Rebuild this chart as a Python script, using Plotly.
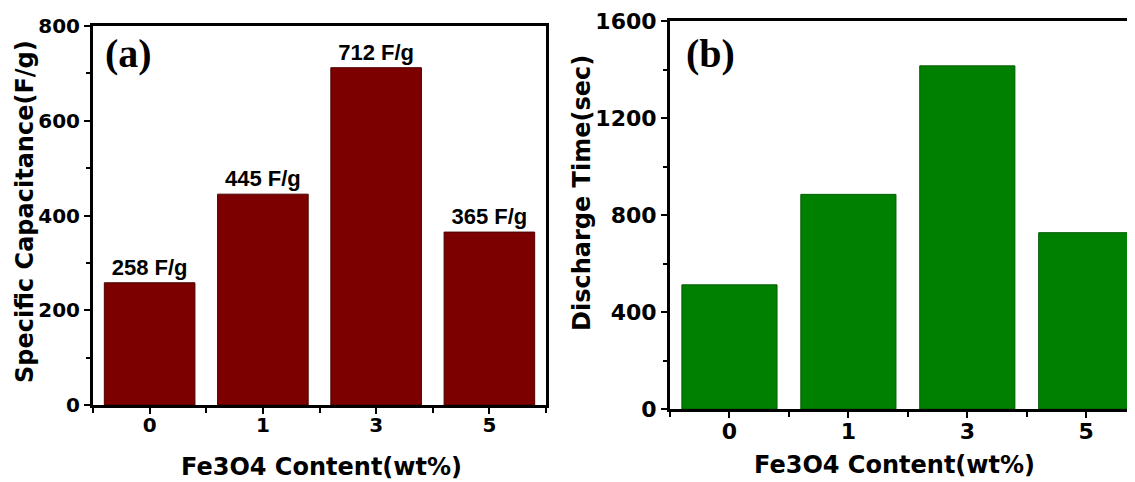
import plotly.graph_objects as go

# ---- data ----
fe3o4_content = ["0", "1", "3", "5"]
specific_capacitance = [258, 445, 712, 365]
capacitance_labels = ["258 F/g", "445 F/g", "712 F/g", "365 F/g"]
discharge_time = [512, 885, 1415, 727]

PAGE_W, PAGE_H = 1135, 482
OFF = 8  # default body margin of the written page
W, H = PAGE_W - OFF, PAGE_H - OFF
xpos = list(range(len(fe3o4_content)))

RED = "#7d0000"
GREEN = "#008000"
TICKFONT_A = dict(family="DejaVu Sans", size=20, color="black", weight="bold")
TICKFONT_B = dict(family="DejaVu Sans", size=22, color="black", weight="bold")
TITLEFONT_A = dict(family="DejaVu Sans", size=24, color="black", weight="bold")
TITLEFONT_B = dict(family="DejaVu Sans", size=24, color="black", weight="bold")


def px_x(p):
    return (p - OFF) / W


def px_y(p):
    return 1 - (p - OFF) / H


fig = go.Figure()

fig.add_trace(go.Bar(
    x=xpos, y=specific_capacitance, xaxis="x", yaxis="y", width=0.8,
    marker=dict(color=RED, line=dict(color="#4a0000", width=1)),
    text=capacitance_labels, textposition="outside", cliponaxis=False,
    textfont=dict(family="Liberation Sans, Arial", size=22, color="black", weight="bold"),
    showlegend=False,
))
fig.add_trace(go.Bar(
    x=xpos, y=discharge_time, xaxis="x2", yaxis="y2", width=0.8,
    marker=dict(color=GREEN, line=dict(color="#005a00", width=1)),
    showlegend=False,
))


def xax(font, standoff):
    return dict(
        tickvals=xpos, ticktext=fe3o4_content, ticks="outside", ticklen=6, tickwidth=2,
        tickcolor="black", showline=True, linewidth=3, linecolor="black",
        showgrid=False, zeroline=False, tickfont=font, automargin=False,
        ticklabelstandoff=standoff,
        minor=dict(tickvals=[-0.5, 0.5, 1.5, 2.5, 3.5], ticks="outside", ticklen=5,
                   tickwidth=2, tickcolor="black"),
    )


def yax(font):
    return dict(
        ticks="outside", ticklen=6, tickwidth=2, tickcolor="black",
        showline=True, linewidth=3, linecolor="black", showgrid=False, zeroline=False,
        tickfont=font, automargin=False,
    )


fig.update_layout(
    width=W, height=H, margin=dict(l=0, r=0, t=0, b=0),
    plot_bgcolor="white", paper_bgcolor="white",
    xaxis=dict(domain=[px_x(93), px_x(546)], range=[-0.5, 3.5], anchor="y",
               mirror=True, **xax(TICKFONT_A, -6)),
    yaxis=dict(domain=[px_y(405), px_y(26)], range=[0, 800], dtick=200, anchor="x",
               mirror=True,
               minor=dict(dtick=100, ticks="outside", ticklen=4, tickwidth=2, tickcolor="black"),
               **yax(TICKFONT_A)),
    xaxis2=dict(domain=[px_x(670), 1.0], range=[-0.5, 3.41], anchor="y2",
                mirror=True, **xax(TICKFONT_B, -5)),
    yaxis2=dict(domain=[px_y(409), px_y(21)], range=[0, 1600], dtick=400, anchor="x2",
                mirror=False,
                minor=dict(dtick=200, ticks="outside", ticklen=4, tickwidth=2, tickcolor="black"),
                **yax(TICKFONT_B)),
)

annos = [
    dict(text="Specific Capacitance(F/g)", x=px_x(25), y=px_y(212), textangle=-90, font=TITLEFONT_A),
    dict(text="Fe3O4 Content(wt%)", x=px_x(321), y=px_y(467), font=TITLEFONT_A),
    dict(text="Discharge Time(sec)", x=px_x(582), y=px_y(193), textangle=-90, font=TITLEFONT_B),
    dict(text="Fe3O4 Content(wt%)", x=px_x(895), y=px_y(465), font=TITLEFONT_B),
    dict(text="(a)", x=px_x(128), y=px_y(53),
         font=dict(family="Liberation Serif", size=40, color="black", weight="bold")),
    dict(text="(b)", x=px_x(710), y=px_y(53),
         font=dict(family="Liberation Serif", size=40, color="black", weight="bold")),
]
for a in annos:
    fig.add_annotation(xref="paper", yref="paper", showarrow=False,
                       xanchor="center", yanchor="middle", **a)

fig.write_html("out.html")
